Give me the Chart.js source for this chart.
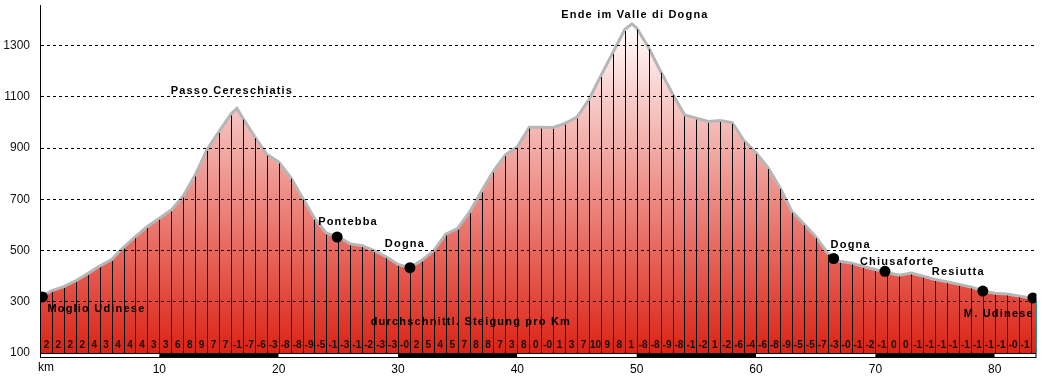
<!DOCTYPE html>
<html>
<head>
<meta charset="utf-8">
<script src="https://cdn.jsdelivr.net/npm/chart.js@4.4.1/dist/chart.umd.min.js"></script>
<style>
  html, body { margin: 0; padding: 0; background: #fff; }
  #wrap { width: 1042px; height: 376px; }
</style>
</head>
<body>
<div id="wrap"><canvas id="profileChart"></canvas></div>
<script>
// Höhenprofil: Moglio Udinese - Valle di Dogna - M. Udinese
const profileKm = [
  0, 1, 2, 3, 4, 5, 6, 7, 8, 9, 10, 11, 12, 13, 14, 15, 16, 16.5, 17, 18, 19,
  20, 21, 22, 23, 24, 25, 26, 27, 28, 29, 30, 31, 32, 33, 34, 35, 36, 37, 38, 39,
  40, 41, 42, 43, 44, 45, 46, 47, 48, 49, 49.6, 50, 51, 52, 53, 54, 55, 56, 57, 58, 59,
  60, 61, 62, 63, 64, 65, 66, 67, 68, 69, 70, 71, 72, 73, 74, 75, 76, 77, 78, 79,
  80, 81, 82, 83, 83.5,
];
const profileElev = [
  318, 344, 359, 382, 410, 440, 465, 513, 554, 594, 626, 658, 713, 795, 895, 965, 1033, 1055, 1017, 944, 876,
  846, 786, 705, 626, 568, 553, 526, 519, 500, 476, 446, 433, 462, 500, 564, 587, 651, 733, 810, 874,
  905, 982, 982, 981, 997, 1021, 1090, 1183, 1273, 1363, 1385, 1369, 1292, 1200, 1113, 1030, 1017, 1004, 1008, 1000, 929,
  882, 824, 746, 653, 605, 554, 490, 458, 451, 438, 426, 413, 404, 412, 400, 387, 378, 368, 358, 342,
  333, 330, 323, 314, 309,
];
// durchschnittliche Steigung je Kilometer (%)
const gradients = [
  "2", "2", "2", "2", "4", "3", "4", "4", "4", "3",
  "3", "6", "8", "9", "7", "7", "-1", "-7", "-6", "-3",
  "-8", "-8", "-9", "-5", "-1", "-3", "-1", "-2", "-3", "-3",
  "-0", "2", "5", "4", "5", "7", "8", "8", "7", "3",
  "8", "0", "-0", "1", "3", "7", "10", "9", "8", "1",
  "-8", "-8", "-9", "-8", "-1", "-2", "1", "-2", "-6", "-4",
  "-6", "-8", "-9", "-5", "-5", "-7", "-3", "-0", "-1", "-2",
  "-1", "0", "0", "-1", "-1", "-1", "-1", "-1", "-1", "-1",
  "-1", "-0", "-1",
];
const townNames = ["Moglio Udinese", "Pontebba", "Dogna", "Dogna", "Chiusaforte", "Resiutta", "M. Udinese"];
const townKm = [0.2, 24.9, 31.0, 66.5, 70.8, 79.0, 83.2];
const townElev = [319, 553, 433, 469, 419, 342, 315];
const peakNames = ["Passo Cereschiatis", "Ende im Valle di Dogna"];
const peakKm = [16.5, 49.6];
const peakElev = [1055, 1385];
const yTicks = [100, 300, 500, 700, 900, 1100, 1300];
const xTicks = [10, 20, 30, 40, 50, 60, 70, 80];

// label placement relative to the marker (pixels)
const townLabelPlace = [
  { align: "left", dx: 5, dy: 12 },
  { align: "left", dx: -19, dy: -15 },
  { align: "center", dx: -5, dy: -24 },
  { align: "left", dx: -3, dy: -14 },
  { align: "left", dx: -25, dy: -9 },
  { align: "right", dx: 2, dy: -19 },
  { align: "right", dx: 1, dy: 16 },
];
const peakLabelPlace = [
  { dx: -5, dy: -17 },
  { dx: 3, dy: -9 },
];

const labelFont = "bold 11px 'Liberation Sans', Arial, sans-serif";

const profilePlugin = {
  id: "profileMarks",
  afterDatasetsDraw(chart) {
    const { ctx, chartArea, scales } = chart;
    const x = scales.x;
    const y = scales.y;
    ctx.save();
    // km lines
    ctx.strokeStyle = "#000";
    ctx.lineWidth = 1;
    profileKm.forEach((km, i) => {
      if (km === 0 || !Number.isInteger(km)) return;
      const px = Math.round(x.getPixelForValue(km)) + 0.5;
      ctx.beginPath();
      ctx.moveTo(px, y.getPixelForValue(profileElev[i]) + 1.5);
      ctx.lineTo(px, chartArea.bottom);
      ctx.stroke();
    });
    // end line
    const last = profileKm.length - 1;
    const ex = Math.round(x.getPixelForValue(profileKm[last])) - 0.5;
    ctx.strokeStyle = "#1f9a9a";
    ctx.beginPath();
    ctx.moveTo(ex, y.getPixelForValue(profileElev[last]) + 1.5);
    ctx.lineTo(ex, chartArea.bottom);
    ctx.stroke();

    // gradient numbers
    ctx.fillStyle = "#111";
    ctx.font = "bold 10px 'Liberation Sans', Arial, sans-serif";
    ctx.textAlign = "center";
    ctx.textBaseline = "middle";
    gradients.forEach((g, i) => {
      const cx = (x.getPixelForValue(i) + x.getPixelForValue(i + 1)) / 2 + 0.5;
      ctx.fillText(g, cx, chartArea.bottom - 8);
    });

    // km scale bar
    const barTop = chartArea.bottom + 0.5;
    for (let d = 0; d < 84; d += 10) {
      const x1 = x.getPixelForValue(d);
      const x2 = x.getPixelForValue(Math.min(d + 10, profileKm[last]));
      ctx.fillStyle = (d / 10) % 2 === 1 ? "#000" : "#fff";
      ctx.fillRect(x1, barTop, x2 - x1, 4);
    }
    ctx.strokeStyle = "#000";
    ctx.strokeRect(chartArea.left + 0.5, barTop, chartArea.right - chartArea.left - 1, 4);
    ctx.restore();
  },
  afterDraw(chart) {
    const { ctx, chartArea, scales } = chart;
    const x = scales.x;
    const y = scales.y;
    ctx.save();
    ctx.fillStyle = "#000";
    ctx.textBaseline = "middle";
    ctx.font = "12px 'Liberation Sans', Arial, sans-serif";
    ctx.textAlign = "left";
    ctx.fillText("km", chartArea.left - 2, 368);

    ctx.font = labelFont;
    ctx.letterSpacing = "1.2px";
    townNames.forEach((name, i) => {
      const p = townLabelPlace[i];
      ctx.textAlign = p.align;
      ctx.fillText(name, x.getPixelForValue(townKm[i]) + p.dx, y.getPixelForValue(townElev[i]) + p.dy);
    });
    peakNames.forEach((name, i) => {
      const p = peakLabelPlace[i];
      ctx.textAlign = "center";
      ctx.fillText(name, x.getPixelForValue(peakKm[i]) + p.dx, y.getPixelForValue(peakElev[i]) + p.dy);
    });
    ctx.textAlign = "center";
    ctx.fillText("durchschnittl. Steigung pro Km", x.getPixelForValue(36.1), chartArea.bottom - 31);
    ctx.restore();
  },
};

new Chart(document.getElementById("profileChart"), {
  type: "line",
  data: {
    datasets: [
      {
        label: "Orte",
        data: townKm.map((km, i) => ({ x: km, y: townElev[i] })),
        showLine: false,
        pointRadius: 5.5,
        pointHoverRadius: 5.5,
        pointBackgroundColor: "#000",
        pointBorderWidth: 0,
        order: 1,
      },
      {
        label: "Höhe",
        data: profileKm.map((km, i) => ({ x: km, y: profileElev[i] })),
        borderColor: "#b6b6b6",
        borderWidth: 3,
        pointRadius: 0,
        tension: 0,
        fill: "start",
        order: 2,
        backgroundColor: (context) => {
          const { chart } = context;
          const { ctx, chartArea, scales } = chart;
          if (!chartArea) return null;
          const g = ctx.createLinearGradient(0, scales.y.getPixelForValue(1390), 0, chartArea.bottom);
          g.addColorStop(0, "#ffffff");
          g.addColorStop(1, "#dc2315");
          return g;
        },
      },
    ],
  },
  options: {
    responsive: true,
    maintainAspectRatio: false,
    animation: false,
    layout: { padding: { left: 0, right: 2, top: 0, bottom: 0 } },
    plugins: {
      legend: { display: false },
      tooltip: { enabled: false },
    },
    scales: {
      x: {
        type: "linear",
        min: 0,
        max: 83.5,
        grid: { display: false },
        border: { display: false },
        afterBuildTicks: (scale) => {
          scale.ticks = xTicks.map((v) => ({ value: v }));
        },
        ticks: {
          maxRotation: 0,
          autoSkip: false,
          padding: 1,
          color: "#000",
          font: { family: "'Liberation Sans', Arial, sans-serif", size: 12 },
          callback: (v) => String(v),
        },
        afterFit: (scale) => {
          scale.height = 23;
          scale.paddingLeft = 0;
          scale.paddingRight = 0;
        },
      },
      y: {
        min: 100,
        max: 1457,
        grid: {
          z: 1,
          drawTicks: false,
          color: (c) => (c.tick && c.tick.value === 100 ? "rgba(0,0,0,0)" : "#000"),
          lineWidth: 1,
        },
        border: { display: true, color: "#000", width: 1, z: 1, dash: [3, 3] },
        afterBuildTicks: (scale) => {
          scale.ticks = yTicks.map((v) => ({ value: v }));
        },
        ticks: {
          padding: 10,
          color: "#111",
          font: { family: "'Liberation Sans', Arial, sans-serif", size: 12 },
          callback: (v) => String(v),
        },
        afterFit: (scale) => {
          scale.width = 40;
          scale.paddingTop = 0;
          scale.paddingBottom = 0;
        },
      },
    },
  },
  plugins: [profilePlugin],
});
</script>
</body>
</html>
